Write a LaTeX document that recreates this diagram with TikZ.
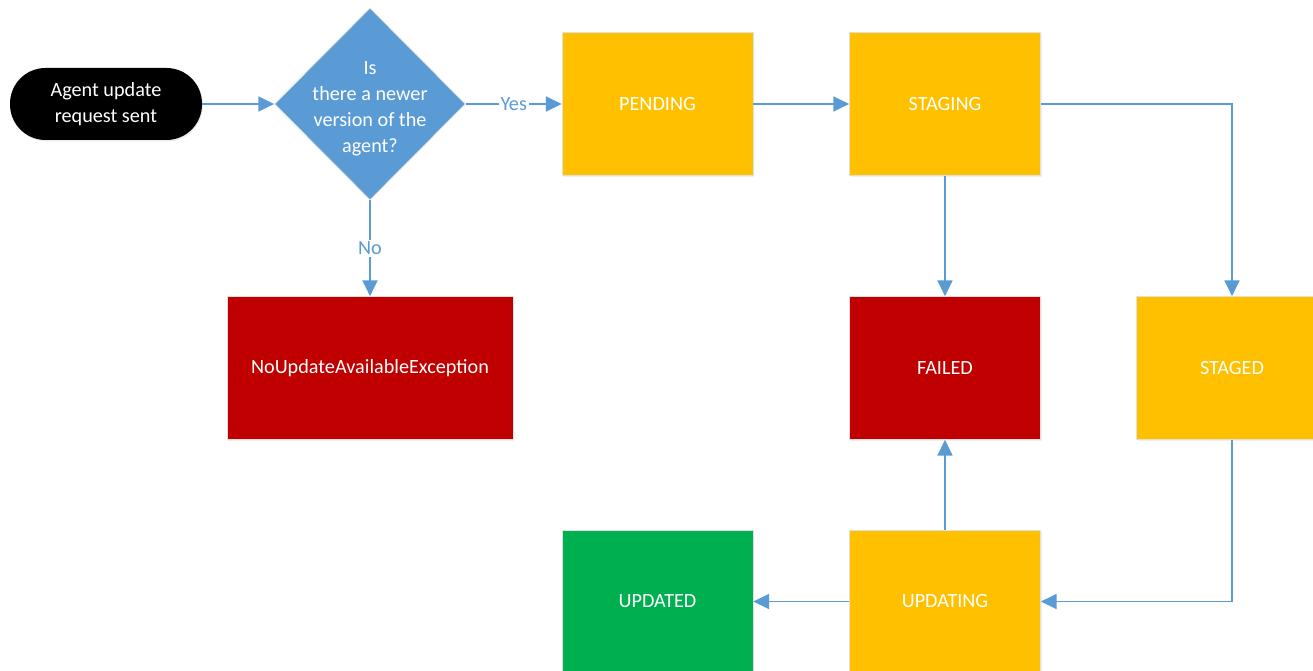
\documentclass[tikz,border=0pt]{standalone}
\usepackage{fontspec}
\setmainfont{Carlito}
\usetikzlibrary{shapes.geometric,arrows.meta,shadows}
\definecolor{flowblue}{HTML}{5B9BD5}
\definecolor{amber}{HTML}{FFC000}
\definecolor{darkred}{HTML}{C00000}
\definecolor{okgreen}{HTML}{00B050}
\tikzstyle{flow}=[draw=flowblue,line width=1.1pt,-{Triangle[length=9pt,width=8.5pt]}]
\tikzstyle{state}=[rectangle,draw=black!12,line width=0.4pt,minimum width=3.82cm,minimum height=2.86cm,text=white,drop shadow={opacity=0.12,shadow xshift=0.6pt,shadow yshift=-0.8pt}]
\tikzstyle{lbl}=[fill=white,text=flowblue,inner sep=1pt]
\newcommand{\statebox}[4][3.82cm]{ % [width] {name} {colour} {text}, placed with "at"
\node[state,fill=#3,minimum width=#1] (#2) at (\bx,\by) {#4};
}

\begin{document}
\begin{tikzpicture}[x=0.02cm,y=-0.02cm,font=\fontsize{11.5pt}{14.8pt}\selectfont]
\useasboundingbox (0,0) rectangle (1313,671);
\clip (0,0) rectangle (1313,671);
\fill[white] (0,0) rectangle (1313,671);
% start and decision
\node[rectangle,rounded corners=0.71cm,fill=black,text=white,minimum width=3.84cm,minimum height=1.44cm,align=center,
  drop shadow={opacity=0.15,shadow xshift=0.6pt,shadow yshift=-0.8pt}] (start) at (106,104) {Agent update\\request sent};
\node[diamond,fill=flowblue,draw=black!10,minimum width=3.82cm,minimum height=3.84cm,inner sep=0pt] (ask) at (370,104) {};
\node[text=white,align=center] (asktext) at (370,109) {Is\\there a newer\\version of the\\agent?};
% states
\def\bx{657.5}\def\by{104}\statebox{pending}{amber}{PENDING}
\def\bx{945}\def\by{104}\statebox{staging}{amber}{STAGING}
\def\bx{370}\def\by{368}\statebox[5.72cm]{noupd}{darkred}{NoUpdateAvailableException}
\def\bx{945}\def\by{368}\statebox{failed}{darkred}{FAILED}
\def\bx{1232}\def\by{368}\statebox{staged}{amber}{STAGED}
\def\bx{657.5}\def\by{601.5}\statebox{updated}{okgreen}{UPDATED}
\def\bx{945}\def\by{601.5}\statebox{updating}{amber}{UPDATING}
% transitions
\draw[flow] (start) -- (ask);
\draw[flow] (ask) -- node[lbl] {Yes} (pending);
\draw[flow] (ask) -- node[lbl] {No} (noupd);
\draw[flow] (pending) -- (staging);
\draw[flow] (staging) -| (staged);
\draw[flow] (staging) -- (failed);
\draw[flow] (staged) |- (updating);
\draw[flow] (updating) -- (failed);
\draw[flow] (updating) -- (updated);
\end{tikzpicture}
\end{document}
